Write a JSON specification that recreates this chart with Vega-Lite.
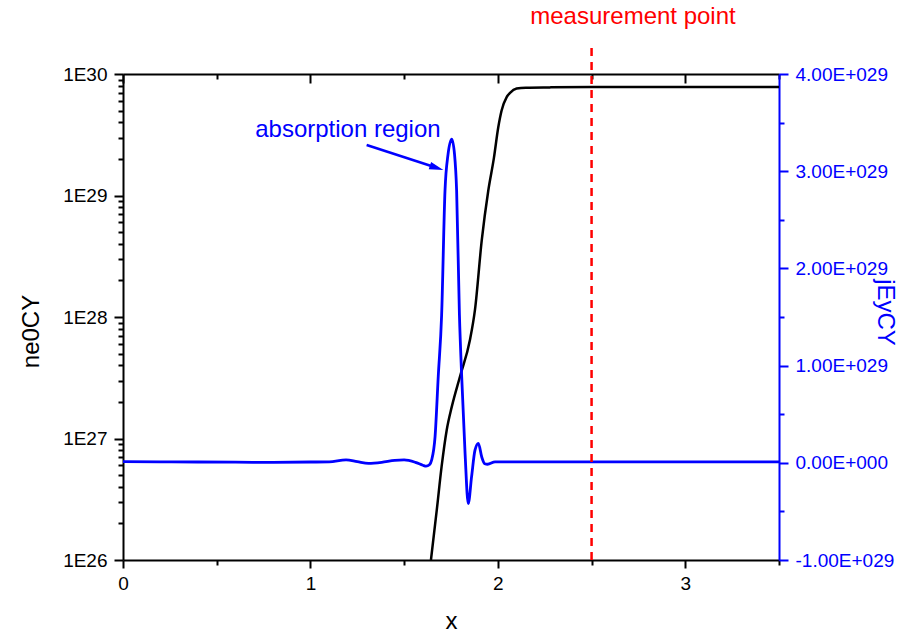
{
  "$schema": "https://vega.github.io/schema/vega-lite/v6.json",
  "width": 656,
  "height": 486,
  "autosize": "none",
  "padding": {"left": 123, "top": 74, "right": 121, "bottom": 74},
  "background": "white",
  "config": {
    "view": {"stroke": null},
    "font": "Liberation Sans",
    "axis": {"grid": false, "labelFont": "Liberation Sans", "titleFont": "Liberation Sans", "titleFontWeight": "normal", "labelOverlap": false, "labelFlush": false, "labelBound": false}
  },
  "datasets": {
    "ne": [
      {"x": 1.643, "ne0CY": 1.0e26},
      {"x": 1.674, "ne0CY": 2.57e26},
      {"x": 1.700, "ne0CY": 5.89e26},
      {"x": 1.727, "ne0CY": 1.17e27},
      {"x": 1.754, "ne0CY": 1.82e27},
      {"x": 1.798, "ne0CY": 3.24e27},
      {"x": 1.851, "ne0CY": 6.46e27},
      {"x": 1.878, "ne0CY": 1.15e28},
      {"x": 1.914, "ne0CY": 4.27e28},
      {"x": 1.949, "ne0CY": 1.10e29},
      {"x": 1.979, "ne0CY": 2.04e29},
      {"x": 2.002, "ne0CY": 3.63e29},
      {"x": 2.020, "ne0CY": 5.01e29},
      {"x": 2.047, "ne0CY": 6.46e29},
      {"x": 2.065, "ne0CY": 7.0e29},
      {"x": 2.100, "ne0CY": 7.59e29},
      {"x": 2.150, "ne0CY": 7.72e29},
      {"x": 2.278, "ne0CY": 7.76e29},
      {"x": 2.5, "ne0CY": 7.8e29},
      {"x": 3.0, "ne0CY": 7.8e29},
      {"x": 3.5, "ne0CY": 7.8e29}
    ],
    "jey": [
      {"x": 0.0, "jEyCY": 0.012e29},
      {"x": 0.2, "jEyCY": 0.010e29},
      {"x": 0.4, "jEyCY": 0.008e29},
      {"x": 0.6, "jEyCY": 0.006e29},
      {"x": 0.8, "jEyCY": 0.005e29},
      {"x": 1.0, "jEyCY": 0.008e29},
      {"x": 1.1, "jEyCY": 0.010e29},
      {"x": 1.19, "jEyCY": 0.030e29},
      {"x": 1.25, "jEyCY": 0.012e29},
      {"x": 1.31, "jEyCY": -0.005e29},
      {"x": 1.38, "jEyCY": 0.005e29},
      {"x": 1.45, "jEyCY": 0.025e29},
      {"x": 1.50, "jEyCY": 0.030e29},
      {"x": 1.56, "jEyCY": 0.005e29},
      {"x": 1.60, "jEyCY": -0.025e29},
      {"x": 1.617, "jEyCY": -0.035e29},
      {"x": 1.635, "jEyCY": -0.02e29},
      {"x": 1.647, "jEyCY": 0.03e29},
      {"x": 1.665, "jEyCY": 0.27e29},
      {"x": 1.682, "jEyCY": 0.89e29},
      {"x": 1.700, "jEyCY": 1.52e29},
      {"x": 1.718, "jEyCY": 2.80e29},
      {"x": 1.734, "jEyCY": 3.17e29},
      {"x": 1.754, "jEyCY": 3.33e29},
      {"x": 1.769, "jEyCY": 3.17e29},
      {"x": 1.780, "jEyCY": 2.80e29},
      {"x": 1.795, "jEyCY": 1.52e29},
      {"x": 1.807, "jEyCY": 0.89e29},
      {"x": 1.825, "jEyCY": 0.10e29},
      {"x": 1.842, "jEyCY": -0.42e29},
      {"x": 1.860, "jEyCY": -0.14e29},
      {"x": 1.878, "jEyCY": 0.13e29},
      {"x": 1.896, "jEyCY": 0.20e29},
      {"x": 1.914, "jEyCY": 0.06e29},
      {"x": 1.930, "jEyCY": -0.01e29},
      {"x": 1.945, "jEyCY": -0.015e29},
      {"x": 1.985, "jEyCY": 0.01e29},
      {"x": 2.2, "jEyCY": 0.01e29},
      {"x": 3.5, "jEyCY": 0.01e29}
    ],
    "marker": [{"x": 2.5, "y1": -1e29, "y2": 4.33e29}],
    "labels": [
      {"x": 2.721, "y": 4.586e29, "text": "measurement point", "kind": "red"},
      {"x": 1.2, "y": 3.424e29, "text": "absorption region", "kind": "blue"}
    ],
    "arrow": [
      {"x": 1.300, "y": 3.27e29},
      {"x": 1.6734, "y": 3.035e29}
    ],
    "head": [{"x": 1.6734, "y": 3.035e29}]
  },
  "layer": [
    {
      "data": {"name": "ne"},
      "mark": {"type": "line", "color": "black", "strokeWidth": 2.5, "clip": true, "interpolate": "monotone"},
      "encoding": {
        "x": {
          "field": "x", "type": "quantitative",
          "scale": {"domain": [0, 3.5], "nice": false, "zero": false},
          "axis": {
            "orient": "bottom",
            "values": [0, 0.5, 1, 1.5, 2, 2.5, 3, 3.5],
            "labelExpr": "datum.value % 1 === 0 ? format(datum.value, 'd') : ''",
            "labelFontSize": 19, "labelColor": "black", "labelPadding": 6,
            "domainColor": "black", "domainWidth": 2,
            "tickColor": "black", "tickWidth": 2,
            "tickSize": {"condition": {"test": "datum.value % 1 === 0", "value": 8}, "value": 5},
            "title": "x", "titleFontSize": 24, "titleColor": "black",
            "titleX": 328, "titleY": 68, "titleAlign": "center", "titleBaseline": "alphabetic", "titleAngle": 0
          }
        },
        "y": {
          "field": "ne0CY", "type": "quantitative",
          "scale": {"type": "log", "domain": [1e26, 1e30], "nice": false},
          "axis": {
            "orient": "left",
            "values": [1e26, 2e26, 3e26, 4e26, 5e26, 6e26, 7e26, 8e26, 9e26,
                       1e27, 2e27, 3e27, 4e27, 5e27, 6e27, 7e27, 8e27, 9e27,
                       1e28, 2e28, 3e28, 4e28, 5e28, 6e28, 7e28, 8e28, 9e28,
                       1e29, 2e29, 3e29, 4e29, 5e29, 6e29, 7e29, 8e29, 9e29, 1e30],
            "labelExpr": "abs(log(datum.value)/LN10 - round(log(datum.value)/LN10)) < 0.001 ? '1E' + round(log(datum.value)/LN10) : ''",
            "labelFontSize": 19, "labelColor": "black", "labelPadding": 7,
            "domainColor": "black", "domainWidth": 2,
            "tickColor": "black", "tickWidth": 2,
            "tickSize": {"condition": {"test": "abs(log(datum.value)/LN10 - round(log(datum.value)/LN10)) < 0.001", "value": 9}, "value": 5},
            "title": "ne0CY", "titleFontSize": 24, "titleColor": "black",
            "titleAngle": -90, "titleX": -85, "titleY": 257, "titleAlign": "center", "titleBaseline": "alphabetic"
          }
        }
      }
    },
    {
      "layer": [
        {
          "data": {"name": "jey"},
          "mark": {"type": "line", "color": "#0000ff", "strokeWidth": 2.8, "interpolate": "monotone", "clip": true},
          "encoding": {
            "x": {
              "field": "x", "type": "quantitative",
              "axis": {
                "orient": "top",
                "values": [0, 0.5, 1, 1.5, 2, 2.5, 3, 3.5],
                "labels": false, "title": null,
                "domainColor": "black", "domainWidth": 2,
                "tickColor": "black", "tickWidth": 2,
                "tickSize": {"condition": {"test": "datum.value % 1 === 0", "value": -9}, "value": -5}
              }
            },
            "y": {
              "field": "jEyCY", "type": "quantitative", "title": "jEyCY",
              "scale": {"domain": [-1e29, 4e29], "nice": false, "zero": false},
              "axis": {
                "orient": "right",
                "values": [-1e29, -0.5e29, 0, 0.5e29, 1e29, 1.5e29, 2e29, 2.5e29, 3e29, 3.5e29, 4e29],
                "labelExpr": "abs(datum.value/1e29 - round(datum.value/1e29)) < 0.01 ? ((datum.value < 0 ? '-' : '') + format(abs(datum.value)/1e29, '.2f') + (datum.value === 0 ? 'E+000' : 'E+029')) : ''",
                "labelFontSize": 19, "labelColor": "#0000ff", "labelPadding": 7,
                "domainColor": "#0000ff", "domainWidth": 2,
                "tickColor": "#0000ff", "tickWidth": 2,
                "tickSize": {"condition": {"test": "abs(datum.value/1e29 - round(datum.value/1e29)) < 0.01", "value": 9}, "value": 5},
                "title": "jEyCY", "titleFontSize": 24, "titleColor": "#0000ff",
                "titleAngle": 90, "titleX": 98, "titleY": 238, "titleAlign": "center", "titleBaseline": "alphabetic"
              }
            }
          }
        },
        {
          "data": {"name": "marker"},
          "mark": {"type": "rule", "color": "#ff0000", "strokeWidth": 2.5, "strokeDash": [8, 6], "clip": false},
          "encoding": {
            "x": {"field": "x", "type": "quantitative"},
            "y": {"field": "y1", "type": "quantitative", "title": "jEyCY"},
            "y2": {"field": "y2"}
          }
        },
        {
          "data": {"name": "arrow"},
          "mark": {"type": "line", "color": "#0000ff", "strokeWidth": 2.5, "clip": false},
          "encoding": {
            "x": {"field": "x", "type": "quantitative"},
            "y": {"field": "y", "type": "quantitative", "title": "jEyCY"}
          }
        },
        {
          "data": {"name": "head"},
          "mark": {"type": "point", "shape": "M 1 0 L -1 -0.55 L -1 0.55 Z", "filled": true, "color": "#0000ff", "opacity": 1, "size": 200, "angle": 18, "clip": false},
          "encoding": {
            "x": {"field": "x", "type": "quantitative"},
            "y": {"field": "y", "type": "quantitative", "title": "jEyCY"}
          }
        },
        {
          "data": {"name": "labels"},
          "mark": {"type": "text", "fontSize": 24, "font": "Liberation Sans", "align": "center", "baseline": "middle", "clip": false},
          "encoding": {
            "x": {"field": "x", "type": "quantitative"},
            "y": {"field": "y", "type": "quantitative", "title": "jEyCY"},
            "text": {"field": "text"},
            "color": {"field": "kind", "type": "nominal", "scale": {"domain": ["red", "blue"], "range": ["#ff0000", "#0000ff"]}, "legend": null}
          }
        }
      ]
    }
  ],
  "resolve": {"scale": {"y": "independent"}, "axis": {"x": "independent"}}
}
